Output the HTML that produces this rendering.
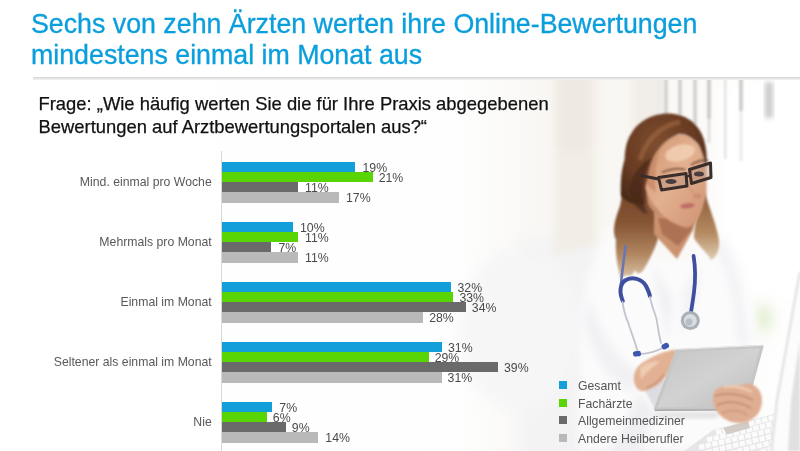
<!DOCTYPE html>
<html lang="de"><head><meta charset="utf-8"><title>Sechs von zehn Ärzten</title>
<style>
html,body{margin:0;padding:0;}
body{width:800px;height:451px;overflow:hidden;background:#fff;position:relative;font-family:"Liberation Sans",sans-serif;}
#photo{position:absolute;left:0;top:0;width:800px;height:451px;}
h1{position:absolute;left:31px;top:7.6px;margin:0;font-weight:normal;font-size:28px;line-height:31.2px;color:#0a9edc;white-space:nowrap;-webkit-text-stroke:0.35px #0a9edc;transform:scaleX(0.9556);transform-origin:0 0;}
.q{position:absolute;left:38.5px;top:93.4px;margin:0;font-size:18.4px;line-height:22.5px;color:#111;-webkit-text-stroke:0.25px #111;white-space:nowrap;}
.rule{position:absolute;left:33px;top:76.5px;width:767px;height:3px;background:linear-gradient(#d6d6d6,#e4e4e4 50%,#f6f6f6);}
.axis{position:absolute;left:221.4px;top:151px;width:1px;height:300px;background:#d9d9d9;}
.bar{position:absolute;left:222.3px;height:10.3px;}
.lab{position:absolute;right:588.3px;width:300px;text-align:right;font-size:12.25px;line-height:14px;color:#595959;white-space:nowrap;}
.val{position:absolute;font-size:12.3px;line-height:14px;color:#4a4a4a;white-space:nowrap;}
.lsq{position:absolute;left:558.5px;width:8px;height:8.2px;}
.ltx{position:absolute;left:578px;font-size:12.25px;line-height:14px;color:#555;white-space:nowrap;}
</style></head><body>
<svg id="photo" viewBox="0 0 800 451" width="800" height="451">
<defs>
<filter id="b05" x="-20%" y="-20%" width="140%" height="140%"><feGaussianBlur stdDeviation="0.6"/></filter>
<filter id="b1" x="-20%" y="-20%" width="140%" height="140%"><feGaussianBlur stdDeviation="1.2"/></filter>
<filter id="b2" x="-20%" y="-20%" width="140%" height="140%"><feGaussianBlur stdDeviation="2.5"/></filter>
<filter id="b4" x="-30%" y="-30%" width="160%" height="160%"><feGaussianBlur stdDeviation="4"/></filter>
<filter id="b8" x="-40%" y="-40%" width="180%" height="180%"><feGaussianBlur stdDeviation="8"/></filter>
<filter id="b14" x="-50%" y="-50%" width="200%" height="200%"><feGaussianBlur stdDeviation="14"/></filter>
<linearGradient id="bgfade" x1="0" x2="1" y1="0" y2="0">
<stop offset="0" stop-color="#ffffff"/><stop offset="0.55" stop-color="#fefefe"/><stop offset="0.70" stop-color="#f7f5f1"/><stop offset="0.85" stop-color="#faf9f7"/><stop offset="1" stop-color="#ffffff"/>
</linearGradient>
<linearGradient id="hairL" x1="0" x2="0" y1="0" y2="1">
<stop offset="0" stop-color="#643a22"/><stop offset="0.55" stop-color="#845333"/><stop offset="0.8" stop-color="#b08660"/><stop offset="1" stop-color="#dcc6a8"/>
</linearGradient>
<linearGradient id="hairR" x1="0" x2="0" y1="0" y2="1">
<stop offset="0" stop-color="#8a5a3a"/><stop offset="0.6" stop-color="#b48a60"/><stop offset="1" stop-color="#e0cdb4"/>
</linearGradient>
<radialGradient id="hairTop" cx="0.45" cy="0.35" r="0.7">
<stop offset="0" stop-color="#7f4e30"/><stop offset="0.6" stop-color="#683b22"/><stop offset="1" stop-color="#4a2a18"/>
</radialGradient>
<linearGradient id="skin" x1="0" x2="1" y1="0" y2="1">
<stop offset="0" stop-color="#d0946f"/><stop offset="0.5" stop-color="#e3b090"/><stop offset="1" stop-color="#cd9272"/>
</linearGradient>
<linearGradient id="tab" x1="0" x2="1" y1="0" y2="1">
<stop offset="0" stop-color="#c4c4c4"/><stop offset="0.5" stop-color="#d2d2d2"/><stop offset="1" stop-color="#bdbdbd"/>
</linearGradient>
<clipPath id="clip"><rect x="33" y="79" width="767" height="372"/></clipPath>
</defs>
<g clip-path="url(#clip)">
<rect x="33" y="79" width="767" height="372" fill="url(#bgfade)"/>

<!-- soft background shapes -->
<g filter="url(#b8)">
<rect x="520" y="240" width="90" height="230" fill="#f3f3f4"/>
<rect x="720" y="79" width="80" height="220" fill="#ffffff"/>
<ellipse cx="763" cy="318" rx="7" ry="14" fill="#d6e8bc"/>
<ellipse cx="520" cy="330" rx="60" ry="80" fill="#f6f6f7"/>
<ellipse cx="640" cy="440" rx="70" ry="20" fill="#efeff1"/>
</g>

<g filter="url(#b4)">
<path d="M555 60 L 660 60 L 660 200 C 640 230 600 245 555 255 Z" fill="#f2ede6"/>
<rect x="596" y="60" width="36" height="180" fill="#f9f7f3"/>
<rect x="557" y="60" width="30" height="90" fill="#eee9e1"/>
</g>
<!-- blinds -->
<g filter="url(#b1)">
<rect x="654" y="79" width="9" height="40" fill="#efedea"/>
<rect x="664" y="79" width="4" height="36" fill="#d6d4d1"/>
<rect x="678" y="79" width="4" height="36" fill="#d4d2cf"/>
<rect x="693" y="79" width="4" height="46" fill="#d6d4d1"/>
<rect x="707" y="79" width="4" height="40" fill="#cfcdcb"/>
<rect x="707.500" y="119" width="3" height="24" fill="#e2e0de"/>
<rect x="724" y="79" width="2.500" height="80" fill="#e6e4e2"/>
<rect x="739" y="79" width="4" height="32" fill="#d0cecc"/>
<rect x="739.500" y="111" width="3" height="50" fill="#ecebe9"/>
</g>
<rect x="765" y="82" width="8" height="36" fill="#cacaca" filter="url(#b2)"/>

<!-- coat (white, with subtle shading) -->
<g filter="url(#b4)">
<path d="M612 226 C596 240 584 280 580 330 L 578 451 L 700 451 L 745 451 L 756 330 C752 280 740 245 716 228 L 690 262 L 660 262 Z" fill="#fbfbfc"/>
<path d="M590 300 C600 330 615 360 640 372 L 632 392 C 605 380 590 350 584 320 Z" fill="#f1f1f4"/>
<path d="M652 262 L 672 300 L 668 345 L 660 300 Z" fill="#efeff2"/>
<path d="M700 262 L 684 290 L 682 340 L 696 300 Z" fill="#f1f1f4"/>
<path d="M722 240 C738 270 746 310 748 345 L 738 345 C736 310 730 275 716 250 Z" fill="#f2f2f5"/>
<path d="M640 392 L 655 412 L 640 451 L 610 451 Z" fill="#efeff2"/>
</g>

<!-- hair back/left -->
<g filter="url(#b1)">
<path d="M638 150 C626 168 624 188 620 206 C614 222 612 232 616 240 C615 256 618 268 621 280 C626 270 630 282 635 270 C640 280 646 266 651 256 C657 244 662 230 662 216 C654 200 650 180 650 160 Z" fill="url(#hairL)"/>
<path d="M705 192 C708 206 716 222 719 240 C720 250 716 258 711 260 C707 252 700 248 694 238 C694 224 698 210 705 192 Z" fill="url(#hairR)"/>
</g>

<!-- neck -->
<g filter="url(#b1)">
<path d="M654 212 L 654 234 L 677 259 L 693 230 L 700 208 Z" fill="#cb9270"/>
<path d="M658 218 L 694 218 L 692 230 L 678 246 L 662 234 Z" fill="#ad7252"/>
</g>

<!-- face -->
<g filter="url(#b1)">
<path d="M679 134 C688 134 697 139 702 150 C706 160 707 176 706.500 192 C704 206 700 216 696 221 C692 227 688 228.500 684 227 C676 225 668 221 660 212 C652 204 648 198 646 190 C640 186 639 178 643 175 C644 164 650 152 660 146 C666 140 672 135 679 134 Z" fill="url(#skin)"/>
<ellipse cx="680" cy="153" rx="15" ry="8" fill="#f3d0b4" opacity="0.85" transform="rotate(-15 680 153)"/>
<ellipse cx="687.500" cy="205.800" rx="7.500" ry="2.600" fill="#c06a68" transform="rotate(-6 687.500 205.800)"/>
<ellipse cx="697" cy="196" rx="4" ry="2.500" fill="#c88a70"/>
<path d="M646 190 C650 200 656 210 666 218 C660 218 652 212 648 204 Z" fill="#c98e70"/>
<path d="M644 176 C648 166 652 158 660 150 C656 162 654 176 656 192 C652 190 646 186 644 176 Z" fill="#c88a68" opacity="0.8"/>
<path d="M662 172.500 C670 169 678 168 685 169.500" stroke="#7a5038" stroke-width="2" fill="none"/>
<path d="M691 165 C697 161 703 159.500 708 160.500" stroke="#7a5038" stroke-width="2" fill="none"/>
<path d="M688 184 C690 190 694 194 698 196" stroke="#d49878" stroke-width="2" fill="none"/>
</g>

<!-- hair top -->
<g filter="url(#b1)">
<path d="M621 196 C620 180 622 168 624.500 160 C625 148 627 140 631 134 C636 124 646 118 656 115 C668 111.500 682 114 690 120 C698 126 703 134 705 144 C707 152 707 160 706 168 C704 158 702 150 698 144 C692 137 686 134 679 134 C668 138 660 146 654 156 C650 164 648 172 647 180 C645 186 644 194 645 204 C640 206 628 204 621 196 Z" fill="url(#hairTop)"/>
<path d="M640 160 C646 140 660 126 680 122" stroke="#a56c44" stroke-width="5" fill="none" opacity="0.55"/>
<path d="M652 158 C646 168 642 180 642 192 C642 200 644 208 648 214 C640 212 632 204 630 192 C630 178 638 164 652 158 Z" fill="#4a2a1a" opacity="0.75"/>
</g>

<!-- glasses -->
<g fill="none" stroke="#3a2e2c" stroke-linejoin="round" filter="url(#b05)">
<path d="M641 175.500 L 658 179" stroke-width="3.200"/>
<path d="M658.500 177.500 L 686 173.500 L 687 186 L 661.500 190 Z" stroke-width="3" fill="#b08a78" fill-opacity="0.4"/>
<path d="M689.500 169.500 L 710.500 163 L 711 177.500 L 691.500 183.500 Z" stroke-width="3" fill="#b08a78" fill-opacity="0.4"/>
<path d="M686 177 L 690 175.500" stroke-width="2.400"/>
</g>
<g filter="url(#b05)">
<ellipse cx="671" cy="181.500" rx="5.500" ry="2.600" fill="#4a3c3e"/>
<ellipse cx="699" cy="174" rx="5" ry="2.500" fill="#4a3c3e"/>
</g>

<!-- stethoscope -->
<g fill="none" stroke-linecap="round" filter="url(#b05)">
<path d="M625.5 246 C624 260 622 272 621 284" stroke="#6a76b4" stroke-width="2.6"/>
<path d="M622.8 301 C619 292 620 284 625 280.5 C632 276 642 279 646 286 C648 290 649.5 293 649.8 296" stroke="#3c4f9e" stroke-width="4"/>
<path d="M693.6 256 C695.5 268 695.5 280 694 292 C693 300 692 306 691 312" stroke="#3c4f9e" stroke-width="3.8"/>
<path d="M622.5 302 C624 312 626 318 628.3 323 C631 332 635 341 637.6 352" stroke="#c2c5ce" stroke-width="1.8"/>
<path d="M649.8 297 C652 306 654 312 656.3 318 C658 327 659 336 661 343" stroke="#c2c5ce" stroke-width="1.8"/>
<path d="M638 354 C646 354 656 352 664 347" stroke="#c2c5ce" stroke-width="1.800"/>
</g>
<g filter="url(#b05)">
<circle cx="690.3" cy="320.5" r="9.5" fill="#aab0b8"/>
<circle cx="690.3" cy="320.5" r="6.5" fill="#d9dde2"/>
<circle cx="689" cy="322" r="3.5" fill="#b8bec6"/>
<rect x="633" y="351" width="8" height="5.5" rx="2.5" fill="#3c57b0" transform="rotate(-5 637 354)"/>
<rect x="661.5" y="343.5" width="7.5" height="5.5" rx="2.5" fill="#3c57b0" transform="rotate(-25 665 346)"/>
</g>

<!-- left hand -->
<g filter="url(#b1)">
<path d="M640 384 C646 392 652 402 656 412 L 668 380 Z" fill="#dcdce1"/>
<path d="M675 349.500 C664 351 651 357 642 363 C636 367 633 374 634 381 C635 388 639 392 645 391 C653 389 660 384 665 378 C669 373 671 367 673 361 C675 357 677 352 675 349.500 Z" fill="#e2b193"/>
<path d="M640 368 C646 362 654 360 660 362 C654 366 646 372 641 380 Z" fill="#efcbb0"/>
<path d="M646 388 C654 386 660 380 664 374" stroke="#c88e72" stroke-width="1.500" fill="none"/>
</g>

<!-- tablet -->
<path d="M652 413 L 720 412 L 716 418 L 660 418 Z" fill="#dedee0" filter="url(#b2)"/>
<g filter="url(#b05)">
<path d="M677 350.500 L 762 346.500 L 745 408.500 L 655.500 409 Z" fill="url(#tab)" stroke="#c6c6c6" stroke-width="3" stroke-linejoin="round"/>
<path d="M677 349.300 L 762 345.300" stroke="#e4e4e4" stroke-width="1.300" fill="none"/>
<path d="M655 410.300 L 745 409.800" stroke="#a8a8a8" stroke-width="1.600" fill="none"/>

</g>

<!-- keyboard -->
<g filter="url(#b05)">
<path d="M713 430 L 774 414 L 775 451 L 684 451 Z" fill="#e6e6e8"/>
<g stroke="#fbfbfb" stroke-width="5" stroke-dasharray="5.500 1.300" fill="none">
<path d="M716 432.500 L 774 417.500"/>
<path d="M707 440 L 774 423.500"/>
<path d="M699 447.500 L 774 429.500"/>
<path d="M700 454 L 775 435.500"/>
<path d="M724 455 L 775 441.500"/>
<path d="M748 456 L 775 447.500"/>
</g>
<path d="M723 428 L 748 421 L 750 428 L 727 434.500 Z" fill="#d2cbc7"/>
</g>

<!-- right hand -->
<g filter="url(#b1)">
<path d="M749 383.500 C757 385 762 392 762 400 C762 411 756 419 746 422 C735 425 725 421 718 413 C712 405 711 395 716 389.500 C723 384 736 387 749 383.500 Z" fill="#dfae92"/>
<path d="M715 396 C726 392 740 394 753 400" stroke="#c0866c" stroke-width="1.700" fill="none"/>
<path d="M717 405 C728 400 740 402 751 408" stroke="#c0866c" stroke-width="1.500" fill="none"/>
<path d="M722 413 C730 409 740 410 747 415" stroke="#c48e74" stroke-width="1.300" fill="none"/>
<path d="M724 387 C734 385 744 388 752 392" stroke="#efcbb4" stroke-width="2.500" fill="none"/>
</g>

<!-- monitor -->
<g filter="url(#b1)">
<path d="M771.500 451 L 777 400 L 796 293 L 800 272 L 800 451 Z" fill="#fcfcfc"/>
<path d="M771.500 451 L 777 400 L 796 293 L 800 272" stroke="#dfdfdf" stroke-width="2.200" fill="none"/>
<path d="M788 451 L 791 400 L 800 340 L 800 451 Z" fill="#e0e0e0"/>
</g>
</g>
</svg>

<div class="rule"></div>
<h1>Sechs von zehn Ärzten werten ihre Online-Bewertungen<br>mindestens einmal im Monat aus</h1>
<p class="q">Frage: „Wie häufig werten Sie die für Ihre Praxis abgegebenen<br>Bewertungen auf Arztbewertungsportalen aus?“</p>
<div class="axis"></div>
<div class="lab" style="top:175.0px">Mind. einmal pro Woche</div>
<div class="bar" style="top:161.5px;width:133.2px;background:#129fda"></div>
<div class="bar" style="top:171.8px;width:150.4px;background:#59d405"></div>
<div class="bar" style="top:182.1px;width:75.3px;background:#6a6a6a"></div>
<div class="bar" style="top:192.4px;width:116.7px;background:#b9b9b9"></div>
<div class="val" style="top:160.5px;left:362.5px">19%</div>
<div class="val" style="top:170.8px;left:378.7px">21%</div>
<div class="val" style="top:181.1px;left:305.1px">11%</div>
<div class="val" style="top:191.4px;left:346.0px">17%</div>
<div class="lab" style="top:235.0px">Mehrmals pro Monat</div>
<div class="bar" style="top:221.5px;width:70.7px;background:#129fda"></div>
<div class="bar" style="top:231.8px;width:75.3px;background:#59d405"></div>
<div class="bar" style="top:242.1px;width:49.2px;background:#6a6a6a"></div>
<div class="bar" style="top:252.4px;width:75.3px;background:#b9b9b9"></div>
<div class="val" style="top:220.5px;left:300.0px">10%</div>
<div class="val" style="top:230.8px;left:305.1px">11%</div>
<div class="val" style="top:241.1px;left:278.5px">7%</div>
<div class="val" style="top:251.4px;left:305.1px">11%</div>
<div class="lab" style="top:295.0px">Einmal im Monat</div>
<div class="bar" style="top:281.5px;width:229.2px;background:#129fda"></div>
<div class="bar" style="top:291.8px;width:231.1px;background:#59d405"></div>
<div class="bar" style="top:302.1px;width:243.5px;background:#6a6a6a"></div>
<div class="bar" style="top:312.4px;width:200.9px;background:#b9b9b9"></div>
<div class="val" style="top:280.5px;left:457.5px">32%</div>
<div class="val" style="top:290.8px;left:459.4px">33%</div>
<div class="val" style="top:301.1px;left:471.8px">34%</div>
<div class="val" style="top:311.4px;left:429.2px">28%</div>
<div class="lab" style="top:355.0px">Seltener als einmal im Monat</div>
<div class="bar" style="top:341.5px;width:219.7px;background:#129fda"></div>
<div class="bar" style="top:351.8px;width:206.4px;background:#59d405"></div>
<div class="bar" style="top:362.1px;width:275.7px;background:#6a6a6a"></div>
<div class="bar" style="top:372.4px;width:219.3px;background:#b9b9b9"></div>
<div class="val" style="top:340.5px;left:448.0px">31%</div>
<div class="val" style="top:350.8px;left:434.7px">29%</div>
<div class="val" style="top:361.1px;left:504.0px">39%</div>
<div class="val" style="top:371.4px;left:447.6px">31%</div>
<div class="lab" style="top:415.0px">Nie</div>
<div class="bar" style="top:401.5px;width:50.0px;background:#129fda"></div>
<div class="bar" style="top:411.8px;width:44.5px;background:#59d405"></div>
<div class="bar" style="top:422.1px;width:63.5px;background:#6a6a6a"></div>
<div class="bar" style="top:432.4px;width:96.0px;background:#b9b9b9"></div>
<div class="val" style="top:400.5px;left:279.3px">7%</div>
<div class="val" style="top:410.8px;left:272.8px">6%</div>
<div class="val" style="top:421.1px;left:291.8px">9%</div>
<div class="val" style="top:431.4px;left:325.3px">14%</div>
<div class="lsq" style="top:381.2px;background:#129fda"></div><div class="ltx" style="top:379px">Gesamt</div>
<div class="lsq" style="top:399.2px;background:#59d405"></div><div class="ltx" style="top:397px">Fachärzte</div>
<div class="lsq" style="top:416.2px;background:#6a6a6a"></div><div class="ltx" style="top:414px">Allgemeinmediziner</div>
<div class="lsq" style="top:434.2px;background:#b9b9b9"></div><div class="ltx" style="top:432px">Andere Heilberufler</div>
</body></html>
